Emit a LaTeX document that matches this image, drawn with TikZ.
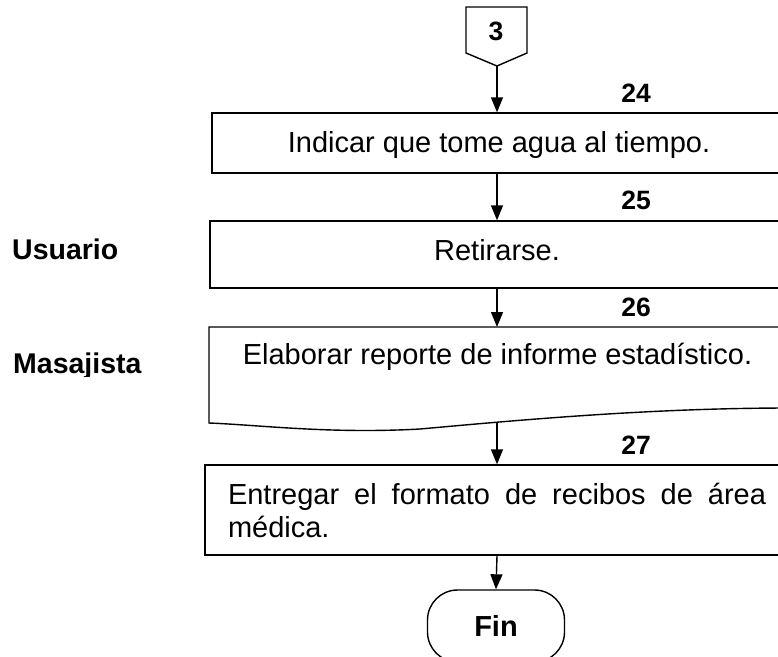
\documentclass[tikz,border=0pt]{standalone}
\usepackage{fontspec}
\setmainfont{Liberation Sans}
\usetikzlibrary{arrows.meta}
\begin{document}
\begin{tikzpicture}[x=1pt,y=-1pt,
  every node/.style={font=\fontsize{29}{33}\selectfont, inner sep=0pt},
  lbl/.style={font=\fontsize{26.5}{30}\selectfont\bfseries},
  side/.style={font=\fontsize{28.5}{33}\selectfont\bfseries, anchor=base west},
  ln/.style={line width=1.4pt},
  boxs/.style={draw, ln, rectangle},
  arr/.style={ln, -{Triangle[length=15pt,width=12pt]}}]
\useasboundingbox (0,0) rectangle (778,656);
\clip (0,0) rectangle (778,656);
% off-page connector
\draw[ln] (466,7) -- (527,7) -- (527,53) -- (497,66) -- (466,53) -- cycle;
\coordinate (c3tip) at (497,66);
\node[lbl] (c3) at (496,31) {3};
% boxes
\node[boxs, minimum width=570pt, minimum height=60pt] (b1) at (497,143) {};
\node[anchor=base] (t1) at (499,152) {Indicar que tome agua al tiempo.};
\node[boxs, minimum width=574pt, minimum height=67pt] (b2) at (497,254.5) {};
\node[anchor=base] (t2) at (497,260) {Retirarse.};
% document shape
\draw[ln] (209,327) -- (790,327) -- (790,408)
  .. controls (650,408) and (520,420) .. (420,429)
  .. controls (330,434) and (260,425) .. (209,423) -- cycle;
\coordinate (b3top) at (497,327);
\coordinate (b3bot) at (497,422);
\node[anchor=base] (t3) at (497.5,364) {Elaborar reporte de informe estadístico.};
\node[boxs, minimum width=584pt, minimum height=90pt, text width=538pt, align=justify] (b4) at (497,510)
  {\tolerance=10000 Entregar el formato de recibos de área médica.};
\node[draw, ln, rounded corners=30pt, minimum width=137pt, minimum height=72pt,
  font=\fontsize{29}{33}\selectfont\bfseries] (fin) at (496,626) {Fin};
% arrows
\draw[arr] (c3tip) -- (c3tip |- b1.north);
\draw[arr] (b1.south) -- (b2.north);
\draw[arr] (b2.south) -- (b3top);
\draw[arr] (b3bot) -- (b4.north);
\draw[arr] (b4.south) -- (fin.north);
% step numbers
\node[lbl] (n24) at (636,93) {24};
\node[lbl] (n25) at (636,200) {25};
\node[lbl] (n26) at (636,307) {26};
\node[lbl] (n27) at (636,445) {27};
% side labels
\node[side] (usuario) at (12,259) {Usuario};
\begin{scope}
\clip (0,330) rectangle (200,376);
\node[side] (masajista) at (13,373) {Masajista};
\end{scope}
\end{tikzpicture}
\end{document}
